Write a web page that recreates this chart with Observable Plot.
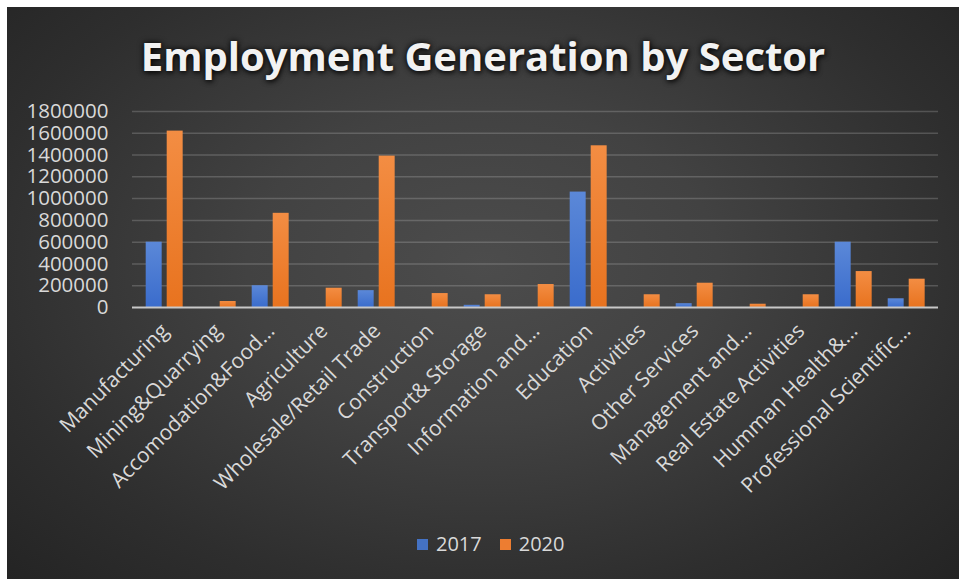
<!DOCTYPE html>
<html><head><meta charset="utf-8">
<script src="https://cdn.jsdelivr.net/npm/d3@7"></script>
<script src="https://cdn.jsdelivr.net/npm/@observablehq/plot@0.6"></script>
<style>
html,body{margin:0;padding:0;background:#fff;}
#chart{position:relative;width:959px;height:579px;overflow:hidden;background:#fff;font-family:"Open Sans",sans-serif;}
#bg{position:absolute;left:7px;top:7px;right:0;bottom:0;background:radial-gradient(ellipse farthest-corner at 50% 45%, #4c4c4c 0%, #424242 35%, #2e2e2e 75%, #242424 100%);}
#title{position:absolute;left:7px;right:0;top:36px;text-align:center;font-size:40px;line-height:40px;font-weight:700;color:#f2f2f2;text-shadow:0 0 6px rgba(0,0,0,.9),1px 2px 5px rgba(0,0,0,.6);}
#plot{position:absolute;left:0;top:0;}
#legend{position:absolute;top:532px;left:417px;display:flex;align-items:center;font-size:20px;line-height:24px;color:#d9d9d9;}
#legend .item{display:flex;align-items:center;margin-right:18px;}
#legend .sw{width:11px;height:11px;margin-right:8px;}
</style>
</head><body>
<div id="chart">
  <div id="bg"></div>
  <div id="title"></div>
  <div id="plot"></div>
  <div id="legend"></div>
</div>
<script>
const titleText = "Employment Generation by Sector";
const categories = ["Manufacturing","Mining&Quarrying","Accomodation&Food…","Agriculture","Wholesale/Retail Trade","Construction","Transport& Storage","Information and…","Education","Activities","Other Services","Management and…","Real Estate Activities","Humman Health&…","Professional Scientific…"];
const v2017 = [600000, 0, 200000, 0, 155000, 0, 20000, 0, 1060000, 0, 35000, 0, 0, 600000, 80000];
const v2020 = [1620000, 55000, 865000, 177000, 1390000, 128000, 117000, 211000, 1485000, 117000, 223000, 30000, 117000, 330000, 260000];
const seriesNames = ["2017", "2020"];
const yTicks = [0, 200000, 400000, 600000, 800000, 1000000, 1200000, 1400000, 1600000, 1800000];

const colors = {"2017": "#4472C4", "2020": "#ED7D31"};
const fills = {"2017": "url(#gBlue)", "2020": "url(#gOrange)"};

const d2017 = categories.map((c, i) => ({category: c, value: v2017[i]}));
const d2020 = categories.map((c, i) => ({category: c, value: v2020[i]}));

document.getElementById("title").textContent = titleText;

const band = (959 - 132 - 21) / categories.length;
const bw = 16.7;
const bLeft = 7.7, oLeft = 28.7;

const svg = Plot.plot({
  width: 959,
  height: 500,
  marginLeft: 132,
  marginRight: 21,
  marginTop: 111,
  marginBottom: 193,
  style: {fontFamily: "'Open Sans', sans-serif", fontSize: "20px", color: "#d9d9d9", background: "transparent", overflow: "visible"},
  x: {domain: categories, padding: 0, label: null},
  y: {domain: [0, 1800000], label: null},
  marks: [
    Plot.ruleY(yTicks.filter(d => d > 0), {stroke: "#d9d9d9", strokeOpacity: 0.22, strokeWidth: 1.5}),
    Plot.barY(d2017, {x: "category", y: "value", fill: fills["2017"], insetLeft: bLeft, insetRight: band - bLeft - bw}),
    Plot.barY(d2020, {x: "category", y: "value", fill: fills["2020"], insetLeft: oLeft, insetRight: band - oLeft - bw}),
    Plot.ruleY([0], {stroke: "#c8c8c8", strokeWidth: 2}),
    Plot.axisY({ticks: yTicks, tickFormat: d3.format("d"), tickSize: 0, tickPadding: 24, fill: "#d9d9d9", fontSize: 20.5}),
    Plot.axisX({tickSize: 0, tickPadding: 20, tickRotate: -45, fill: "#d9d9d9", fontSize: 21})
  ]
});

const defs = d3.select(svg).insert("defs", ":first-child");
const gb = defs.append("linearGradient").attr("id", "gBlue").attr("x1", 0).attr("y1", 0).attr("x2", 0).attr("y2", 1);
gb.append("stop").attr("offset", "0%").attr("stop-color", "#5b88d8");
gb.append("stop").attr("offset", "100%").attr("stop-color", "#3a6ccc");
const go = defs.append("linearGradient").attr("id", "gOrange").attr("x1", 0).attr("y1", 0).attr("x2", 0).attr("y2", 1);
go.append("stop").attr("offset", "0%").attr("stop-color", "#f38d43");
go.append("stop").attr("offset", "100%").attr("stop-color", "#e8731f");

document.getElementById("plot").appendChild(svg);

const legend = d3.select("#legend");
seriesNames.forEach(s => {
  const it = legend.append("div").attr("class", "item");
  it.append("div").attr("class", "sw").style("background", colors[s]);
  it.append("span").text(s);
});
</script>
</body></html>
